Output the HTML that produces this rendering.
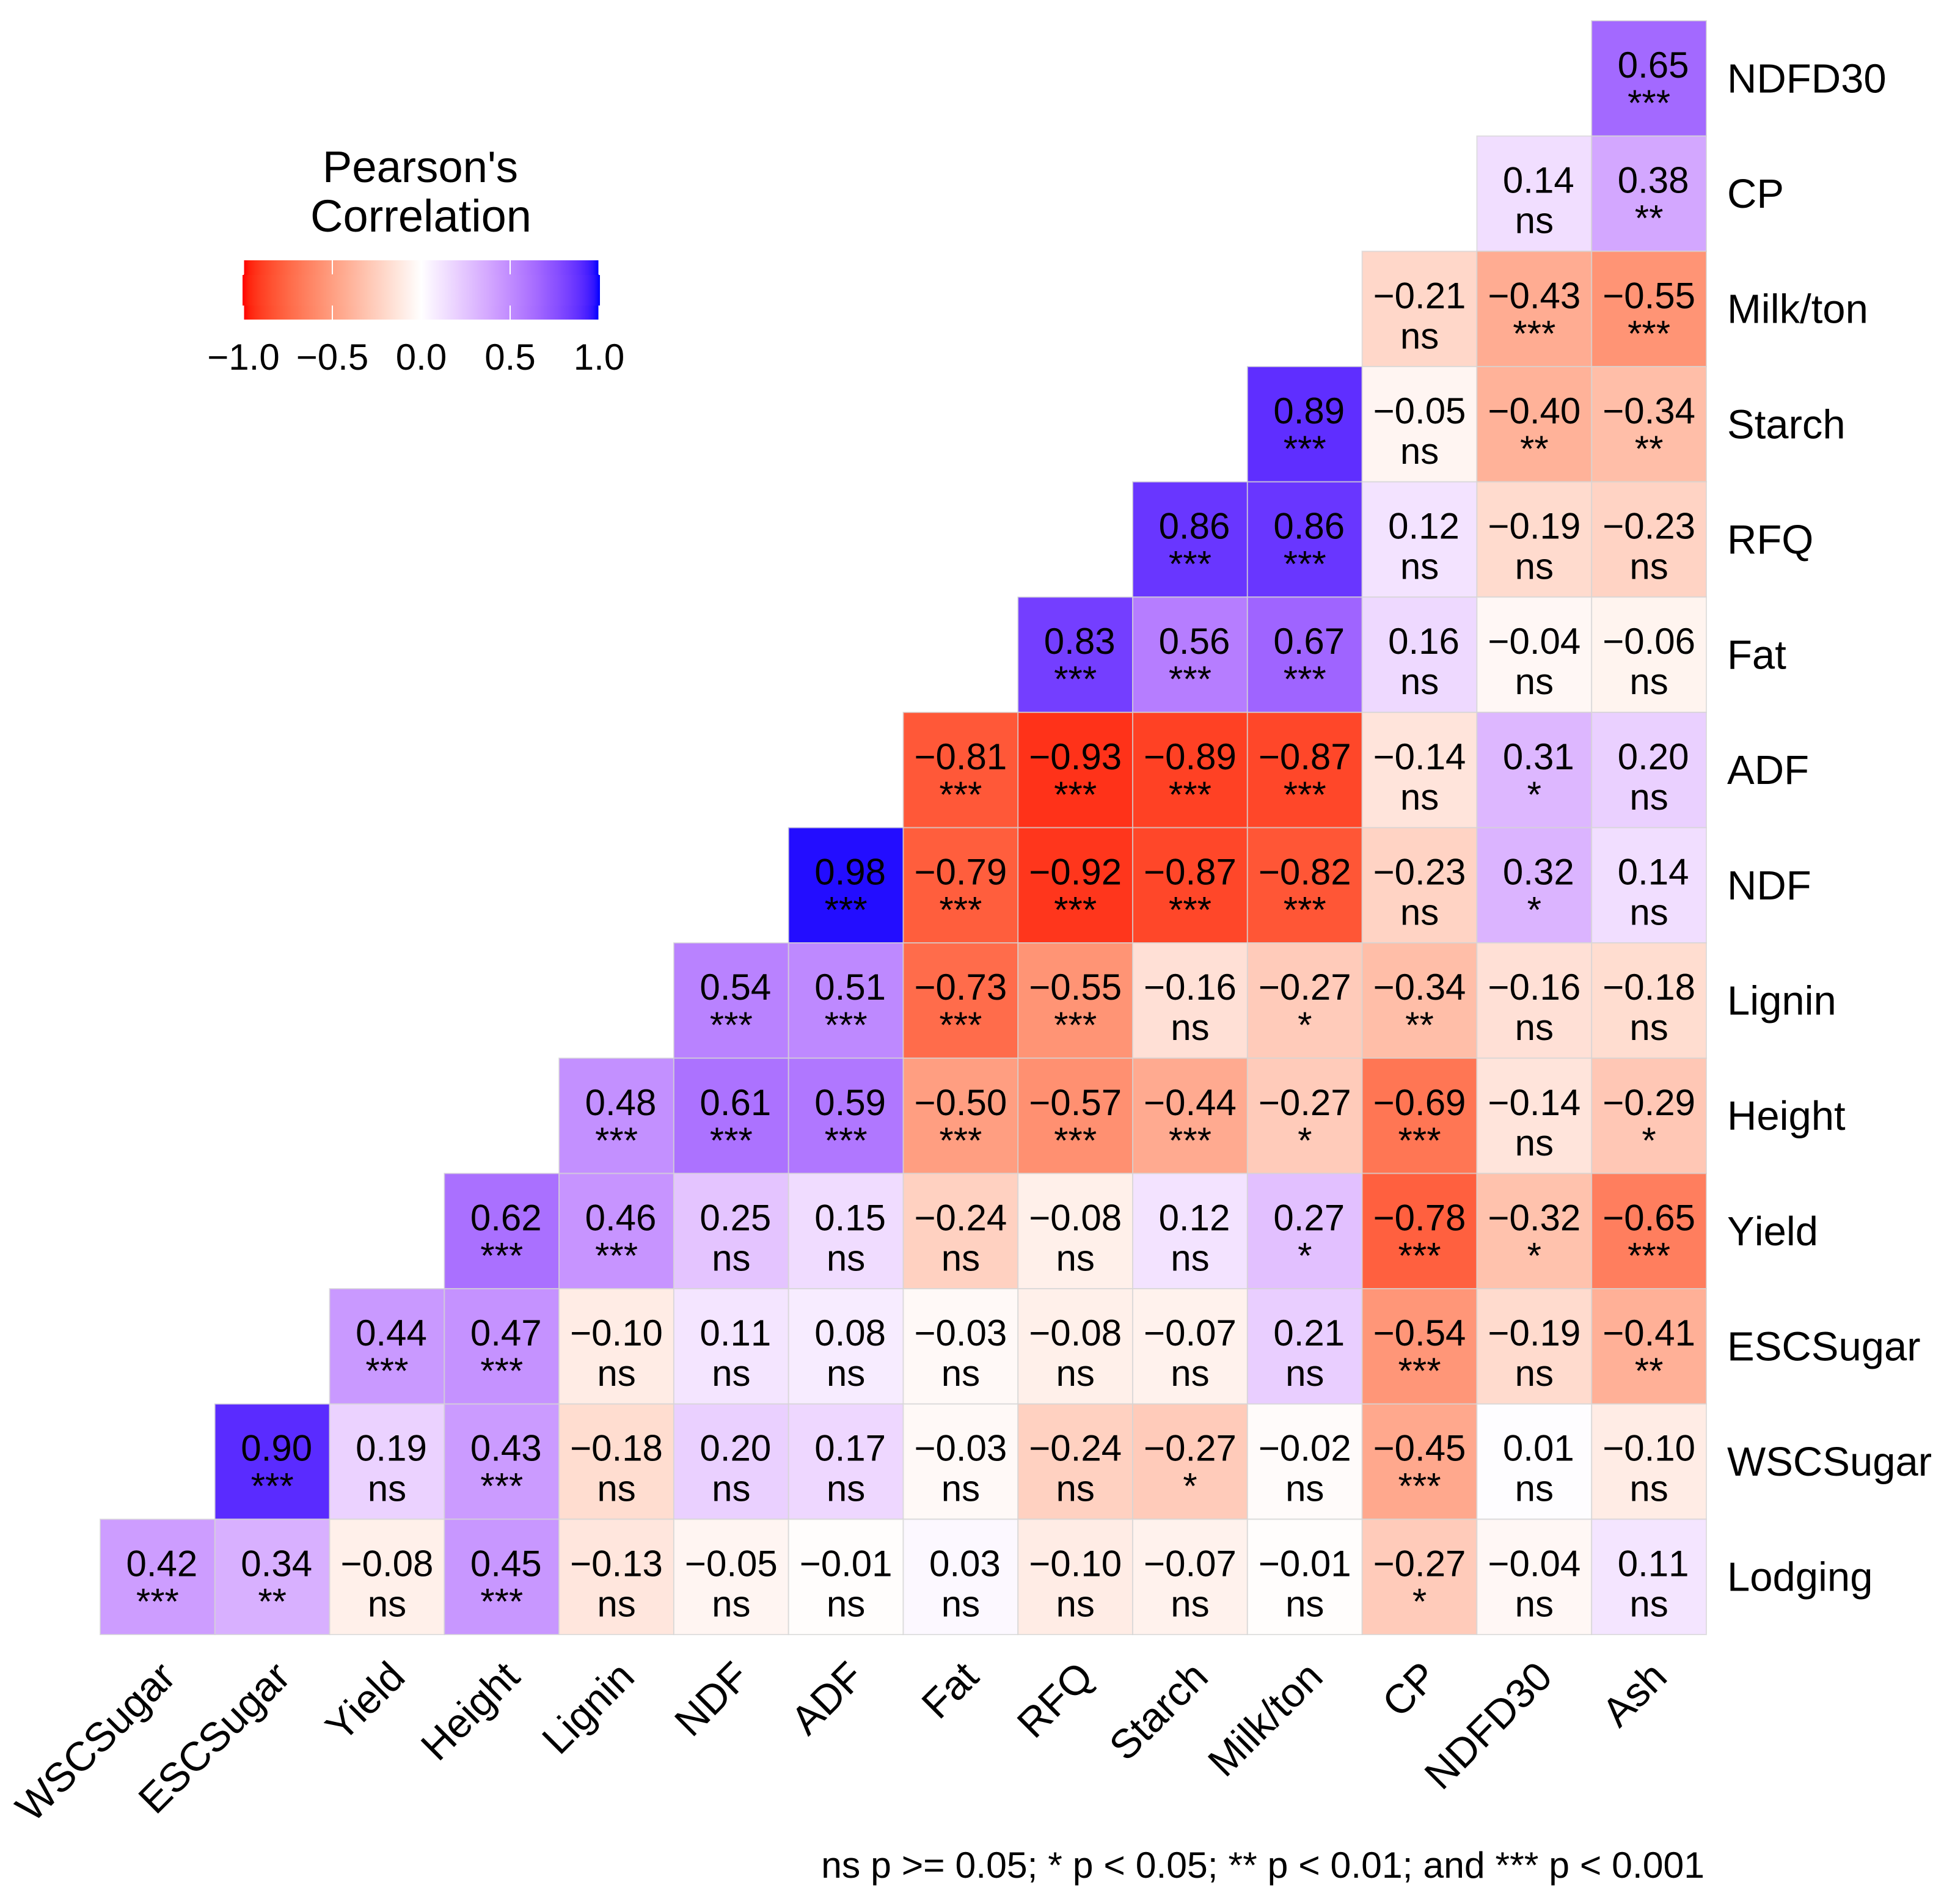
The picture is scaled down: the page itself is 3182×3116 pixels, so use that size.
<!DOCTYPE html>
<html lang="en">
<head>
<meta charset="utf-8">
<title>Pearson's Correlation Heatmap</title>
<style>
  html, body { margin: 0; padding: 0; background: #fff; }
  #chart { display: block; width: 3182px; height: 3116px; }
  text { font-family: "Liberation Sans", Arial, sans-serif; fill: #000; font-kerning: none; }
</style>
</head>
<body>
<svg id="chart" xmlns="http://www.w3.org/2000/svg" width="3182" height="3116" viewBox="0 0 3182 3116">
  <rect x="0" y="0" width="3182" height="3116" fill="#fff"/>
  <defs>
    <linearGradient id="legend-gradient" x1="0" x2="1" y1="0" y2="0"></linearGradient>
  </defs>
  <g id="cells"></g>
  <g id="cell-labels"></g>
  <g id="y-axis"></g>
  <g id="x-axis"></g>
  <g id="legend">
    <text x="688" y="298" font-size="72.5" text-anchor="middle">Pearson's</text>
    <text x="689" y="379" font-size="74" text-anchor="middle">Correlation</text>
    <rect x="399" y="426" width="581" height="97" fill="url(#legend-gradient)"/>
    <rect x="397" y="450" width="585" height="50" fill="url(#legend-gradient)"/>
  </g>
  <text x="2790" y="3073" font-size="60.7" text-anchor="end">ns p &gt;= 0.05; * p &lt; 0.05; ** p &lt; 0.01; and *** p &lt; 0.001</text>
</svg>
<script>
const xCategories = ["WSCSugar","ESCSugar","Yield","Height","Lignin","NDF","ADF","Fat","RFQ","Starch","Milk/ton","CP","NDFD30","Ash"];
const yCategories = ["NDFD30","CP","Milk/ton","Starch","RFQ","Fat","ADF","NDF","Lignin","Height","Yield","ESCSugar","WSCSugar","Lodging"];
const correlationValues = [
  [0.65],
  [0.14,0.38],
  [-0.21,-0.43,-0.55],
  [0.89,-0.05,-0.40,-0.34],
  [0.86,0.86,0.12,-0.19,-0.23],
  [0.83,0.56,0.67,0.16,-0.04,-0.06],
  [-0.81,-0.93,-0.89,-0.87,-0.14,0.31,0.20],
  [0.98,-0.79,-0.92,-0.87,-0.82,-0.23,0.32,0.14],
  [0.54,0.51,-0.73,-0.55,-0.16,-0.27,-0.34,-0.16,-0.18],
  [0.48,0.61,0.59,-0.50,-0.57,-0.44,-0.27,-0.69,-0.14,-0.29],
  [0.62,0.46,0.25,0.15,-0.24,-0.08,0.12,0.27,-0.78,-0.32,-0.65],
  [0.44,0.47,-0.10,0.11,0.08,-0.03,-0.08,-0.07,0.21,-0.54,-0.19,-0.41],
  [0.90,0.19,0.43,-0.18,0.20,0.17,-0.03,-0.24,-0.27,-0.02,-0.45,0.01,-0.10],
  [0.42,0.34,-0.08,0.45,-0.13,-0.05,-0.01,0.03,-0.10,-0.07,-0.01,-0.27,-0.04,0.11]
];
const significanceLabels = [
  ["***"],
  ["ns","**"],
  ["ns","***","***"],
  ["***","ns","**","**"],
  ["***","***","ns","ns","ns"],
  ["***","***","***","ns","ns","ns"],
  ["***","***","***","***","ns","*","ns"],
  ["***","***","***","***","***","ns","*","ns"],
  ["***","***","***","***","ns","*","**","ns","ns"],
  ["***","***","***","***","***","***","*","***","ns","*"],
  ["***","***","ns","ns","ns","ns","ns","*","***","*","***"],
  ["***","***","ns","ns","ns","ns","ns","ns","ns","***","ns","**"],
  ["***","ns","***","ns","ns","ns","ns","ns","*","ns","***","ns","ns"],
  ["***","**","ns","***","ns","ns","ns","ns","ns","ns","ns","*","ns","ns"]
];
const legendTicks = [-1, -0.5, 0, 0.5, 1];

const SVG_NS = "http://www.w3.org/2000/svg";
const gridLeft = 164, gridRight = 2793, gridTop = 34, gridBottom = 2675;
const cellW = (gridRight - gridLeft) / xCategories.length;
const cellH = (gridBottom - gridTop) / yCategories.length;
function xScale(i) { return gridLeft + i * cellW; }
function yScale(i) { return gridTop + i * cellH; }
function legendX(v) { return 689.5 + v * 291; }

function rgbToLab(c) {
  const lin = c.map(function (u) { u /= 255; return u > 0.04045 ? Math.pow((u + 0.055) / 1.055, 2.4) : u / 12.92; });
  const X = (0.4124564 * lin[0] + 0.3575761 * lin[1] + 0.1804375 * lin[2]) / 0.95047;
  const Y = 0.2126729 * lin[0] + 0.7151522 * lin[1] + 0.0721750 * lin[2];
  const Z = (0.0193339 * lin[0] + 0.1191920 * lin[1] + 0.9503041 * lin[2]) / 1.08883;
  const f = function (t) { return t > 0.008856 ? Math.cbrt(t) : 7.787 * t + 16 / 116; };
  return [116 * f(Y) - 16, 500 * (f(X) - f(Y)), 200 * (f(Y) - f(Z))];
}
function labToRgb(l) {
  const fy = (l[0] + 16) / 116, fx = l[1] / 500 + fy, fz = fy - l[2] / 200;
  const g = function (t) { return t * t * t > 0.008856 ? t * t * t : (t - 16 / 116) / 7.787; };
  const X = g(fx) * 0.95047, Y = g(fy), Z = g(fz) * 1.08883;
  const lin = [
    3.2404542 * X - 1.5371385 * Y - 0.4985314 * Z,
    -0.9692660 * X + 1.8760108 * Y + 0.0415560 * Z,
    0.0556434 * X - 0.2040259 * Y + 1.0572252 * Z
  ];
  return lin.map(function (u) {
    u = u <= 0.0031308 ? 12.92 * u : 1.055 * Math.pow(Math.max(u, 0), 1 / 2.4) - 0.055;
    return Math.round(Math.min(1, Math.max(0, u)) * 255);
  });
}
const labLow = rgbToLab([255, 0, 0]), labMid = rgbToLab([255, 255, 255]), labHigh = rgbToLab([0, 0, 255]);
/* small red-channel calibration for the violet half of the colour ramp */
function violetShift(t) {
  if (t <= 0.65) return 14 * Math.sin(t / 0.65 * Math.PI / 2);
  if (t <= 0.89) return 14 - 3 * (t - 0.65) / 0.24;
  return 11 * Math.max(0, 1 - t) / 0.11;
}
function colorScale(v) {
  const end = v < 0 ? labLow : labHigh, t = Math.min(1, Math.abs(v));
  const mix = labMid.map(function (m, i) { return m + (end[i] - m) * t; });
  const rgb = labToRgb(mix);
  if (v > 0) rgb[0] = Math.min(255, Math.round(rgb[0] + violetShift(t)));
  return "rgb(" + rgb.join(",") + ")";
}
function makeEl(tag, parent) {
  const el = document.createElementNS(SVG_NS, tag);
  parent.appendChild(el);
  return el;
}

const cellsGroup = document.getElementById("cells");
const labelsGroup = document.getElementById("cell-labels");
correlationValues.forEach(function (row, r) {
  const startCol = xCategories.length - row.length;
  row.forEach(function (value, k) {
    const c = startCol + k;
    const x = xScale(c), y = yScale(r);
    const rect = makeEl("rect", cellsGroup);
    
    
    rect.setAttribute("x", x);
    rect.setAttribute("y", y);
    rect.setAttribute("width", cellW);
    rect.setAttribute("height", cellH);
    rect.setAttribute("fill", colorScale(value));
    rect.setAttribute("stroke", "#d4d4d4");
    rect.setAttribute("stroke-opacity", "0.7");
    rect.setAttribute("stroke-width", "2");

    const cx = x + cellW / 2;
    const valueText = makeEl("text", labelsGroup);
    
    
    valueText.setAttribute("x", value >= 0 ? cx + 7 : cx);
    valueText.setAttribute("y", y + 93);
    valueText.setAttribute("font-size", "60");
    valueText.setAttribute("text-anchor", "middle");
    valueText.textContent = (value < 0 ? "\u2212" : "") + Math.abs(value).toFixed(2);

    const sig = significanceLabels[r][k];
    const sigText = makeEl("text", labelsGroup);
    
    
    sigText.setAttribute("x", cx);
    sigText.setAttribute("y", sig === "ns" ? y + 159 : y + 155);
    sigText.setAttribute("font-size", "60");
    sigText.setAttribute("text-anchor", "middle");
    sigText.textContent = sig;
  });
});

const yAxisGroup = document.getElementById("y-axis");
yCategories.forEach(function (name, r) {
  const t = makeEl("text", yAxisGroup);
  
  
  t.setAttribute("x", 2827);
  t.setAttribute("y", yScale(r) + cellH / 2 + 23);
  t.setAttribute("font-size", "67");
  t.textContent = name;
});

const xAxisGroup = document.getElementById("x-axis");
xCategories.forEach(function (name, c) {
  const ax = xScale(c) + cellW / 2 + 33;
  const ay = gridBottom + 73;
  const t = makeEl("text", xAxisGroup);
  
  
  t.setAttribute("x", ax);
  t.setAttribute("y", ay);
  t.setAttribute("font-size", "67");
  t.setAttribute("text-anchor", "end");
  t.setAttribute("transform", "rotate(-45 " + ax + " " + ay + ")");
  t.textContent = name;
});

const gradient = document.getElementById("legend-gradient");
for (let i = 0; i <= 60; i++) {
  const stop = makeEl("stop", gradient);
  stop.setAttribute("offset", (i / 60 * 100) + "%");
  stop.setAttribute("stop-color", colorScale(-1 + 2 * i / 60));
}

const legendGroup = document.getElementById("legend");
legendTicks.forEach(function (v) {
  const x = legendX(v);
  [[426, 449], [500, 523]].forEach(function (span) {
    const tick = makeEl("line", legendGroup);
    
    
    tick.setAttribute("x1", x);
    tick.setAttribute("x2", x);
    tick.setAttribute("y1", span[0]);
    tick.setAttribute("y2", span[1]);
    tick.setAttribute("stroke", "#fff");
    tick.setAttribute("stroke-width", "2");
  });
  const label = makeEl("text", legendGroup);
  
  
  label.setAttribute("x", x);
  label.setAttribute("y", 605);
  label.setAttribute("font-size", "60");
  label.setAttribute("text-anchor", "middle");
  label.textContent = (v < 0 ? "\u2212" : "") + Math.abs(v).toFixed(1);
});
</script>
</body>
</html>
